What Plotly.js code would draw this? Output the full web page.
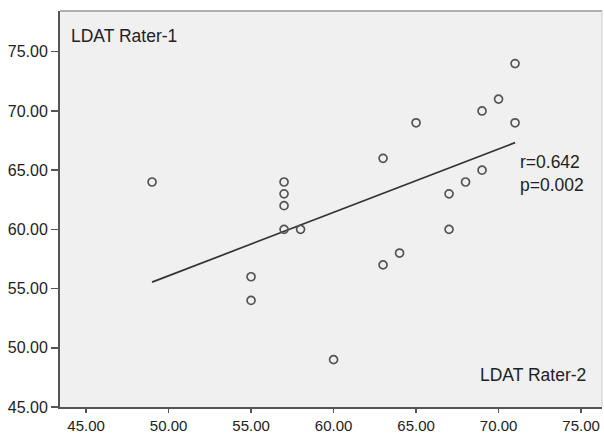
<!DOCTYPE html>
<html><head><meta charset="utf-8">
<script src="https://cdn.plot.ly/plotly-3.0.1.min.js"></script>
<style>html,body{margin:0;padding:0;background:#fff}</style>
</head><body>
<div id="chart" style="width:604px;height:433px"></div>
<script>
// LDAT Rater-2 (x) vs LDAT Rater-1 (y)
const rater2 = [49, 55, 55, 57, 57, 57, 57, 58, 60, 63, 63, 64, 65, 67, 67, 68, 69, 69, 70, 71, 71];
const rater1 = [64, 56, 54, 64, 63, 62, 60, 60, 49, 66, 57, 58, 69, 63, 60, 64, 70, 65, 71, 74, 69];
const tickVals = [45, 50, 55, 60, 65, 70, 75];
const tickText = ["45.00", "50.00", "55.00", "60.00", "65.00", "70.00", "75.00"];
const statsText = "r=0.642<br>p=0.002";

// least-squares fit line computed from the data
const n = rater2.length;
const mx = rater2.reduce((a,b)=>a+b,0)/n;
const my = rater1.reduce((a,b)=>a+b,0)/n;
let sxy=0, sxx=0;
for (let i=0;i<n;i++){ sxy+=(rater2[i]-mx)*(rater1[i]-my); sxx+=(rater2[i]-mx)**2; }
const slope = sxy/sxx, icpt = my - slope*mx;
const xmin = Math.min(...rater2), xmax = Math.max(...rater2);
const fitX = [xmin, xmax];
const fitY = fitX.map(v => icpt + slope*v);

const font = {family: '"Liberation Sans", Arial, sans-serif', color: '#222'};

const traces = [
  {x: fitX, y: fitY, mode: 'lines', line: {color: '#333', width: 1.7}, hoverinfo: 'skip'},
  {x: rater2, y: rater1, mode: 'markers',
   marker: {symbol: 'circle-open', size: 8, color: '#555', line: {width: 1.7, color: '#555'}}}
];

const layout = {
  width: 604, height: 433,
  margin: {l: 60, r: 2, t: 11, b: 26},
  paper_bgcolor: '#fff', plot_bgcolor: '#f0f0f0',
  showlegend: false,
  font: Object.assign({size: 16}, font),
  xaxis: {range: [43.42, 76.27], tickvals: tickVals, ticktext: tickText,
    showgrid: false, zeroline: false, showline: true, linecolor: '#555', linewidth: 2,
    ticks: 'outside', ticklen: 4, tickwidth: 1.5, tickcolor: '#555',
    tickfont: Object.assign({size: 15}, font)},
  yaxis: {range: [45, 78.44], tickvals: tickVals, ticktext: tickText,
    showgrid: false, zeroline: false, showline: true, linecolor: '#555', linewidth: 2,
    ticks: 'outside', ticklen: 7, tickwidth: 1.5, tickcolor: '#555',
    tickfont: Object.assign({size: 16}, font)},
  shapes: [
    {type: 'line', xref: 'paper', yref: 'paper', x0: 0, x1: 1, y0: 1, y1: 1, line: {color: '#999', width: 1.5}},
    {type: 'line', xref: 'paper', yref: 'paper', x0: 1, x1: 1, y0: 0, y1: 1, line: {color: '#ccc', width: 1}}
  ],
  annotations: [
    {text: 'LDAT Rater-1', xref: 'paper', yref: 'paper', x: 0.017, y: 0.937, xanchor: 'left', yanchor: 'middle',
     showarrow: false, font: Object.assign({size: 17.5}, font)},
    {text: 'LDAT Rater-2', xref: 'paper', yref: 'paper', x: 0.974, y: 0.081, xanchor: 'right', yanchor: 'middle',
     showarrow: false, font: Object.assign({size: 17.5}, font)},
    {text: statsText, xref: 'paper', yref: 'paper', x: 0.845, y: 0.59, xanchor: 'left', yanchor: 'middle',
     align: 'left', showarrow: false, font: Object.assign({size: 17.5}, font)}
  ]
};

Plotly.newPlot('chart', traces, layout, {displayModeBar: false, staticPlot: true});
</script>
</body></html>
